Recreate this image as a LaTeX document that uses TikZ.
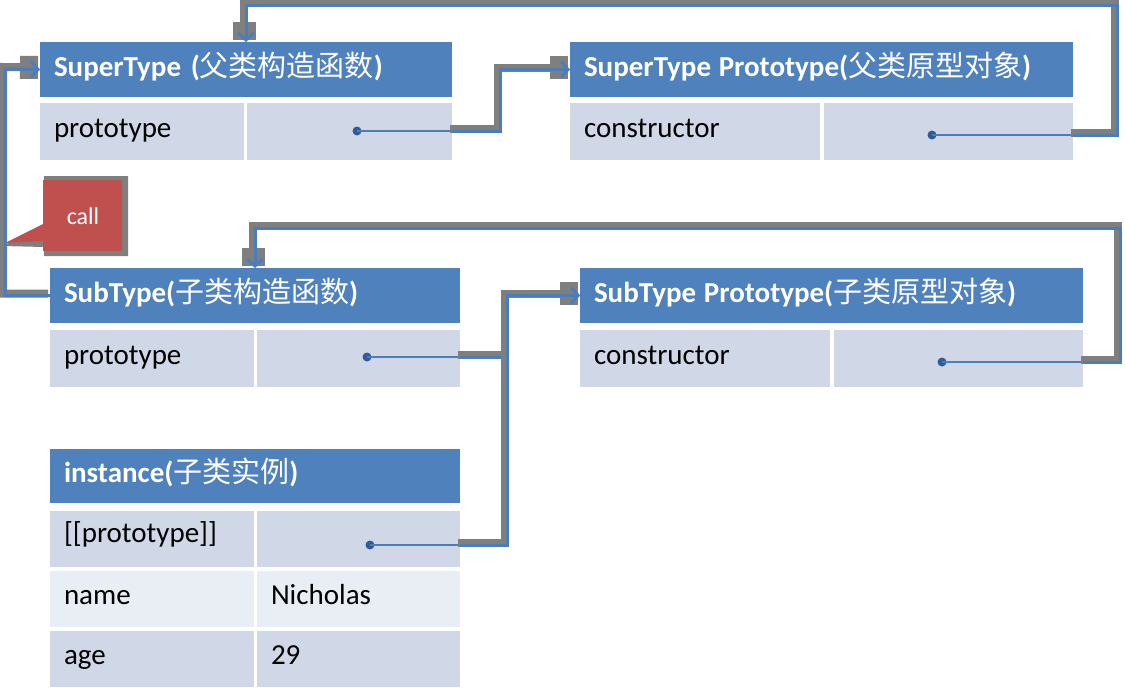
\documentclass[tikz,border=0pt]{standalone}
\usepackage{fontspec}
\setmainfont{Carlito}
\newfontfamily\cjk{Noto Sans CJK SC}
\usetikzlibrary{arrows.meta}
\definecolor{hdr}{HTML}{4F81BD}
\definecolor{rowA}{HTML}{D0D8E8}
\definecolor{rowB}{HTML}{E9EDF4}
\definecolor{lnblue}{HTML}{4A7EBB}
\definecolor{lngray}{HTML}{7F7F7F}
\definecolor{dotc}{HTML}{2F5B97}
\definecolor{callred}{HTML}{C0504D}
\newcommand\myconn[1]{%
  \draw[graybase] #1;
  \draw[bluetop] #1;}
\begin{document}
\begin{tikzpicture}[x=1pt,y=-1pt,
  cell/.style={anchor=north west, inner xsep=14pt, inner ysep=0pt, outer sep=0pt,
    align=left, font=\fontsize{29}{33}\selectfont, text=black},
  hcell/.style={cell, fill=hdr, text=white, minimum height=55pt,
    text height=22pt, text depth=9pt,
    font=\fontsize{29}{33}\selectfont\bfseries},
  rcell/.style={cell, minimum height=57pt, text height=20pt, text depth=9pt},
  dotn/.style={circle, fill=dotc, inner sep=0pt, minimum size=9pt},
  thinln/.style={draw=lnblue, line width=1.5pt},
  graybase/.style={draw=lngray, line width=8pt, line join=miter,
    transform canvas={shift={(-2pt,2pt)}},
    -{Rectangle[length=18pt,width=23pt]}},
  bluetop/.style={draw=lnblue, line width=3pt, line join=miter,
    -{Straight Barb[length=7pt,width=16pt]}}]
\useasboundingbox (0,0) rectangle (1125,691);
\fill[white] (0,0) rectangle (1125,691);

% SuperType table
\node[hcell, text width=384pt] (st_h) at (40,42) {SuperType ({\cjk\mdseries 父类构造函数})};
\node[rcell, fill=rowA, text width=176pt] (st_k) at (40,103) {prototype};
\node[rcell, fill=rowA, text width=177pt] (st_v) at (247,103) {};
\node[dotn] (st_d) at (357,131) {};

% SuperType Prototype table
\node[hcell, text width=475pt] (stp_h) at (570,42) {SuperType\hspace{-2pt} Prototype({\cjk\mdseries 父类原型对象})};
\node[rcell, fill=rowA, text width=222pt] (stp_k) at (570,103) {constructor};
\node[rcell, fill=rowA, text width=221pt] (stp_v) at (824,103) {};
\node[dotn] (stp_d) at (932,135) {};

% SubType table
\node[hcell, text width=382pt] (sb_h) at (50,268) {SubType({\cjk\mdseries 子类构造函数})};
\node[rcell, fill=rowA, text width=176pt] (sb_k) at (50,330) {prototype};
\node[rcell, fill=rowA, text width=175pt] (sb_v) at (257,330) {};
\node[dotn] (sb_d) at (367,357) {};

% SubType Prototype table
\node[hcell, text width=475pt] (sbp_h) at (580,268) {SubType\hspace{-2pt} Prototype({\cjk\mdseries 子类原型对象})};
\node[rcell, fill=rowA, text width=222pt] (sbp_k) at (580,330) {constructor};
\node[rcell, fill=rowA, text width=221pt] (sbp_v) at (834,330) {};
\node[dotn] (sbp_d) at (942,362) {};

% instance table
\node[hcell, text width=382pt, minimum height=54pt] (in_h) at (50,449) {instance({\cjk\mdseries 子类实例})};
\node[rcell, fill=rowA, text width=176pt, minimum height=56pt, text height=18pt, text depth=12pt] (in_pk) at (50,511) {[[prototype]]};
\node[rcell, fill=rowA, text width=175pt, minimum height=56pt] (in_pv) at (257,511) {};
\node[rcell, fill=rowB, text width=176pt, minimum height=56pt] (in_nk) at (50,571) {name};
\node[rcell, fill=rowB, text width=175pt, minimum height=56pt] (in_nv) at (257,571) {Nicholas};
\node[rcell, fill=rowA, text width=176pt, minimum height=56pt] (in_ak) at (50,631) {age};
\node[rcell, fill=rowA, text width=175pt, minimum height=56pt] (in_av) at (257,631) {29};
\node[dotn] (in_d) at (370,545) {};

% call callout
\fill[lngray] (44,176) -- (128,176) -- (128,256) -- (44,256) -- (44,247) -- (2,246) -- (44,226) -- cycle;
\fill[callred]
  (43,180) -- (122,180) -- (122,251) -- (43,251) -- (43,241) -- (5,243) -- (43,224) -- cycle;
\node[text=white, font=\fontsize{24}{28}\selectfont] (call) at (83,216) {call};

% thin pointer lines
\draw[thinln] (st_d.center) -- (st_d.center -| st_v.east);
\draw[thinln] (stp_d.center) -- (stp_d.center -| stp_v.east);
\draw[thinln] (sb_d.center) -- (sb_d.center -| sb_v.east);
\draw[thinln] (sbp_d.center) -- (sbp_d.center -| sbp_v.east);
\draw[thinln] (in_d.center) -- (in_d.center -| in_pv.east);

% connectors
\myconn{(st_d.center -| st_v.east) -- ++(48,0) |- (stp_h.west)}
\myconn{(stp_d.center -| stp_v.east) -| (1117,5) -| (st_h.north)}
\myconn{(sb_h.west) -| (5,69) -- (st_h.west)}
\myconn{(sb_d.center -| sb_v.east) -- ++(47,0) |- (sbp_h.west)}
\myconn{(in_d.center -| in_pv.east) -- ++(47,0) |- (sbp_h.west)}
\myconn{(sbp_d.center -| sbp_v.east) -| (1120,228) -| (sb_h.north)}
\end{tikzpicture}
\end{document}
